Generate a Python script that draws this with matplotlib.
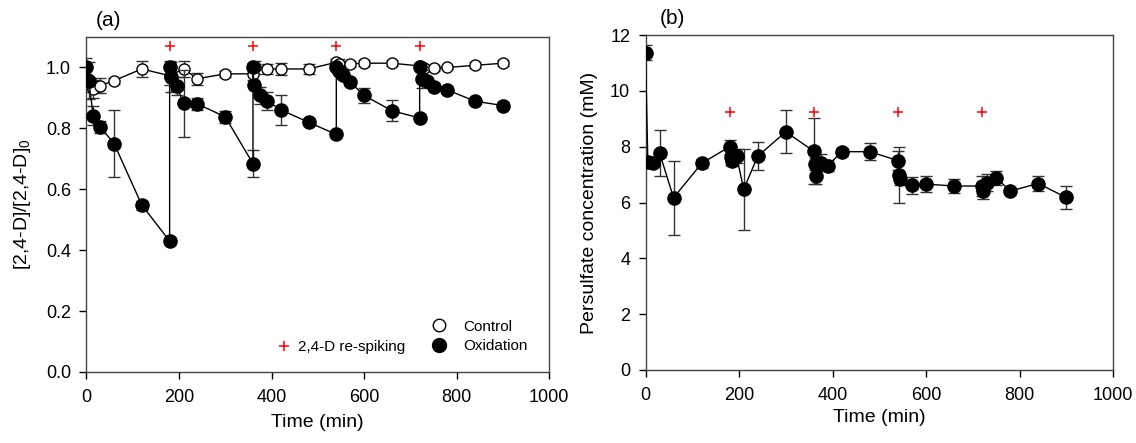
import numpy as np
import matplotlib
matplotlib.use("Agg")
import matplotlib.pyplot as plt
from matplotlib.lines import Line2D

plt.rcParams['font.family'] = ['Liberation Sans', 'DejaVu Sans']
plt.rcParams['mathtext.fontset'] = 'custom'
plt.rcParams['mathtext.rm'] = 'Liberation Sans'

# re-spiking times
spike_t = [180, 360, 540, 720]

# (a) control, normalised 2,4-D
ctrl_t = [0, 15, 30, 60, 120, 180, 210, 240, 300, 360, 365, 390, 420, 480,
          540, 545, 570, 600, 660, 720, 730, 750, 780, 840, 900]
ctrl_y = [0.95, 0.93, 0.94, 0.957, 0.995, 0.973, 0.995, 0.963, 0.979, 0.979,
          1.0, 0.995, 0.995, 0.995, 1.017, 1.012, 1.012, 1.014, 1.014, 1.005,
          0.998, 0.998, 1.0, 1.007, 1.014]
ctrl_err = [0.03, 0.03, 0.025, 0.01, 0.025, 0.03, 0.025, 0.02, 0.01, 0.02,
            0.02, 0.015, 0.02, 0.015, 0.01, 0.015, 0.01, 0.01, 0.01, 0.01,
            0.01, 0.01, 0.005, 0.01, 0.01]

# (a) oxidation
oxi_t = [0, 5, 15, 30, 60, 120, 180, 180, 182, 195, 210, 240, 300, 360, 360,
         362, 375, 390, 420, 480, 540, 540, 545, 555, 570, 600, 660, 720, 720,
         725, 735, 750, 780, 840, 900]
oxi_y = [1.0, 0.957, 0.842, 0.805, 0.75, 0.548, 0.43, 1.0, 0.968, 0.94, 0.882,
         0.88, 0.838, 0.684, 1.003, 0.944, 0.908, 0.891, 0.861, 0.82, 0.78,
         1.003, 0.99, 0.974, 0.952, 0.908, 0.858, 0.834, 1.003, 0.963, 0.957,
         0.935, 0.926, 0.889, 0.875]
oxi_err = [0.03, 0.06, 0.03, 0.02, 0.11, 0.015, 0.01, 0.02, 0.05, 0.03, 0.11,
           0.02, 0.02, 0.045, 0.01, 0.01, 0.028, 0.03, 0.05, 0.01, 0.01,
           0.01, 0.01, 0.01, 0.01, 0.025, 0.035, 0.01, 0.01, 0.03, 0.01,
           0.01, 0.01, 0.01, 0.01]

# (b) persulfate concentration (mM)
ps_t = [0, 5, 15, 30, 60, 120, 180, 182, 185, 195, 210, 240, 300, 360, 362,
        365, 375, 390, 420, 480, 540, 542, 545, 570, 600, 660, 720, 722, 730,
        750, 780, 840, 900]
ps_y = [11.37, 7.46, 7.42, 7.78, 6.17, 7.4, 8.0, 7.63, 7.5, 7.66, 6.47, 7.66,
        8.53, 7.84, 7.38, 6.95, 7.42, 7.32, 7.82, 7.82, 7.5, 7.0, 6.83, 6.62,
        6.66, 6.59, 6.59, 6.42, 6.71, 6.89, 6.41, 6.68, 6.18]
ps_err = [0.28, 0.15, 0.15, 0.82, 1.33, 0.15, 0.25, 0.3, 0.2, 0.25, 1.45, 0.5,
          0.77, 1.17, 0.2, 0.3, 0.3, 0.2, 0.15, 0.3, 0.35, 1.0, 0.2, 0.3, 0.3,
          0.25, 0.35, 0.3, 0.3, 0.25, 0.1, 0.28, 0.4]

fig = plt.figure(figsize=(11.36, 4.43), dpi=100)
ax1 = fig.add_axes([86.3 / 1136, 1 - 372 / 443, 463 / 1136, 335 / 443])
ax2 = fig.add_axes([645.5 / 1136, 1 - 370 / 443, 467.5 / 1136, 335 / 443])

ekw = dict(ecolor='#333333', elinewidth=1, capsize=4, capthick=1)

# panel (a)
ax1.errorbar(ctrl_t, ctrl_y, yerr=ctrl_err, fmt='-o', color='black', lw=1,
             ms=8, mfc='white', mec='black', mew=1, zorder=3, **ekw)
ax1.errorbar(oxi_t, oxi_y, yerr=oxi_err, fmt='-o', color='black', lw=1,
             ms=9.5, mfc='black', mec='black', zorder=4, **ekw)
ax1.plot(spike_t, [1.07] * len(spike_t), '+', color='red', ms=7, mew=1.1)
ax1.set_xlim(0, 1000)
ax1.set_ylim(0, 1.1)
ax1.set_xticks(np.arange(0, 1001, 200))
ax1.set_yticks(np.arange(0, 1.01, 0.2))
ax1.set_yticklabels([f"{v:.1f}" for v in np.arange(0, 1.01, 0.2)])
ax1.set_xlabel("Time (min)", fontsize=14, labelpad=6)
ax1.set_ylabel("[2,4-D]/[2,4-D]$_0$", fontsize=14, labelpad=9)
ax1.text(0.048, 1.02, "(a)", transform=ax1.transAxes, fontsize=15,
         ha='center', va='bottom')

h_spike = Line2D([], [], ls='none', marker='+', color='red', ms=7, mew=1.1)
h_ctrl = Line2D([], [], ls='none', marker='o', ms=9, mfc='white', mec='black')
h_oxi = Line2D([], [], ls='none', marker='o', ms=10, mfc='black', mec='black')
leg1 = ax1.legend([h_spike], ["2,4-D re-spiking"], loc='center left',
                  bbox_to_anchor=(0.395, 0.075), frameon=False, fontsize=11,
                  handletextpad=0.3, handlelength=1.2, borderaxespad=0)
ax1.add_artist(leg1)
ax1.legend([h_ctrl, h_oxi], ["Control", "Oxidation"], loc='center left',
           bbox_to_anchor=(0.728, 0.106), frameon=False, fontsize=11,
           handletextpad=1.0, handlelength=1.2, labelspacing=0.35,
           borderaxespad=0)

# panel (b)
ax2.errorbar(ps_t, ps_y, yerr=ps_err, fmt='-o', color='black', lw=1,
             ms=9.5, mfc='black', mec='black', zorder=4, **ekw)
ax2.plot(spike_t, [9.25] * len(spike_t), '+', color='red', ms=7, mew=1.1)
ax2.set_xlim(0, 1000)
ax2.set_ylim(0, 12)
ax2.set_xticks(np.arange(0, 1001, 200))
ax2.set_yticks(np.arange(0, 13, 2))
ax2.set_xlabel("Time (min)", fontsize=14, labelpad=4)
ax2.set_ylabel("Persulfate concentration (mM)", fontsize=14, labelpad=9)
ax2.text(0.057, 1.02, "(b)", transform=ax2.transAxes, fontsize=15,
         ha='center', va='bottom')

for ax in (ax1, ax2):
    ax.tick_params(direction='out', length=5, width=1, labelsize=13,
                   top=False, right=False)
    ax.tick_params(axis='x', pad=7)
    ax.tick_params(axis='y', pad=6)
    for s in ax.spines.values():
        s.set_linewidth(1)
        s.set_color('#444444')

plt.savefig("out.png", dpi=100)
